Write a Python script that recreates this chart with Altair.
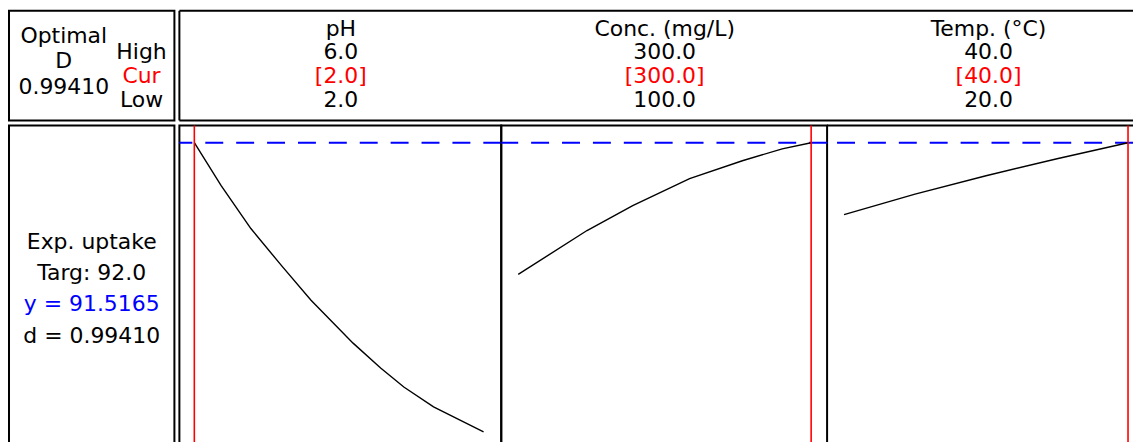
import altair as alt
import pandas as pd

FONT = "DejaVu Sans"
FS = 22

# ---- data ----
factor_names = ["pH", "Conc. (mg/L)", "Temp. (°C)"]
factor_high = ["6.0", "300.0", "40.0"]
factor_cur = ["[2.0]", "[300.0]", "[40.0]"]
factor_low = ["2.0", "100.0", "20.0"]
current = [2.0, 300.0, 40.0]
x_domains = [[1.794, 6.234], [89.15, 310.85], [18.807, 40.351]]

ph_x = [2.0, 2.37, 2.78, 3.2, 3.61, 4.19, 4.57, 4.89, 5.3, 5.99]
ph_y = [91.52, 82.9, 74.3, 66.9, 59.9, 51.3, 46.3, 42.5, 38.5, 33.5]
conc_x = [100.7, 147.5, 178.6, 217.3, 253.2, 280.3, 300.0]
conc_y = [65.1, 73.9, 78.9, 84.3, 87.9, 90.3, 91.52]
temp_x = [20.0, 25.0, 30.0, 35.0, 40.0]
temp_y = [77.1, 81.2, 84.9, 88.3, 91.52]

resp_name = "Exp. uptake"
resp_target = "Targ: 92.0"
resp_pred = 91.5165
resp_d = "0.99410"
optimal_d = "0.99410"

Y_DOMAIN = [27, 95]
PWS = [323, 327, 307]
PH = 340
LW = 166
TH = 110
SW = 2
HDR_Y = [-0.76, 3.88]

# ---- header left ----
hl = pd.DataFrame({
    "t": ["Optimal", "D", optimal_d, "High", "Cur", "Low"],
    "col": [0, 0, 0, 1, 1, 1],
    "row": [0.3, 1.38, 2.48, 1, 2, 3],
    "c": ["black", "black", "black", "black", "#ff0000", "black"],
})
header_left = alt.Chart(hl).mark_text(fontSize=FS, font=FONT, baseline="middle", align="center").encode(
    x=alt.X("col:Q", scale=alt.Scale(domain=[-0.705, 1.423], nice=False, zero=False), axis=None),
    y=alt.Y("row:Q", scale=alt.Scale(domain=HDR_Y, nice=False, zero=False, reverse=True), axis=None),
    text="t:N",
    color=alt.Color("c:N", scale=None),
).properties(width=LW, height=TH)

# ---- header right ----
rows = []
for i, n in enumerate(factor_names):
    rows.append({"i": i, "row": 0, "t": n, "c": "black"})
    rows.append({"i": i, "row": 1, "t": factor_high[i], "c": "black"})
    rows.append({"i": i, "row": 2, "t": factor_cur[i], "c": "#ff0000"})
    rows.append({"i": i, "row": 3, "t": factor_low[i], "c": "black"})
hr = pd.DataFrame(rows)
HRW = sum(PWS)
hr_text = alt.Chart(hr).mark_text(fontSize=FS, font=FONT, baseline="middle", align="center").encode(
    x=alt.X("i:Q", scale=alt.Scale(domain=[-0.4985, -0.4985 + HRW / 325], nice=False, zero=False), axis=None),
    y=alt.Y("row:Q", scale=alt.Scale(domain=HDR_Y, nice=False, zero=False, reverse=True), axis=None),
    text="t:N",
    color=alt.Color("c:N", scale=None),
)
frame = alt.Chart(pd.DataFrame({"k": [0]}))
hr_top = frame.mark_rule(color="black", strokeWidth=SW).encode(y=alt.value(0))
hr_bot = frame.mark_rule(color="black", strokeWidth=SW).encode(y=alt.value(TH))
hr_left = frame.mark_rule(color="black", strokeWidth=SW).encode(x=alt.value(0))
header_right = alt.layer(hr_top, hr_bot, hr_left, hr_text).properties(
    width=HRW, height=TH, view=alt.ViewBackground(stroke="transparent")
)

# ---- bottom left ----
bl = pd.DataFrame({
    "t": [resp_name, resp_target, f"y = {resp_pred:.4f}", f"d = {resp_d}"],
    "col": [0, 0, 0, 0],
    "row": [0, 1, 2, 3],
    "c": ["black", "black", "#0000ff", "black"],
})
bottom_left = alt.Chart(bl).mark_text(fontSize=FS, font=FONT, baseline="middle", align="center").encode(
    x=alt.X("col:Q", scale=alt.Scale(domain=[-1, 1], nice=False, zero=False), axis=None),
    y=alt.Y("row:Q", scale=alt.Scale(domain=[-3.74, 7.12], nice=False, zero=False, reverse=True), axis=None),
    text="t:N",
    color=alt.Color("c:N", scale=None),
).properties(width=LW, height=PH)


def panel(xs, ys, dom, cur, w, open_right=False):
    df = pd.DataFrame({"x": xs, "y": ys})
    xsc = alt.Scale(domain=dom, nice=False, zero=False)
    ysc = alt.Scale(domain=Y_DOMAIN, nice=False, zero=False)
    blue = alt.Chart(pd.DataFrame({"y": [resp_pred]})).mark_rule(
        color="#0000ff", strokeWidth=2, strokeDash=[18, 13]
    ).encode(y=alt.Y("y:Q", scale=ysc, axis=None))
    line = alt.Chart(df).mark_line(color="black", strokeWidth=1.4).encode(
        x=alt.X("x:Q", scale=xsc, axis=None),
        y=alt.Y("y:Q", scale=ysc, axis=None),
    )
    red = alt.Chart(pd.DataFrame({"x": [cur]})).mark_rule(color="#ff0000", strokeWidth=1.6).encode(
        x=alt.X("x:Q", scale=xsc, axis=None)
    )
    layers = [blue, line, red]
    props = dict(width=w, height=PH)
    if open_right:
        layers.insert(0, frame.mark_rule(color="black", strokeWidth=SW).encode(y=alt.value(0)))
        props["view"] = alt.ViewBackground(stroke="transparent")
    return alt.layer(*layers).properties(**props)


p1 = panel(ph_x, ph_y, x_domains[0], current[0], PWS[0])
p2 = panel(conc_x, conc_y, x_domains[1], current[1], PWS[1])
p3 = panel(temp_x, temp_y, x_domains[2], current[2], PWS[2], open_right=True)

top = alt.hconcat(header_left, header_right, spacing=5, bounds="flush")
bottom = alt.hconcat(bottom_left, alt.hconcat(p1, p2, p3, spacing=0, bounds="flush"), spacing=5, bounds="flush")

chart = alt.vconcat(top, bottom, spacing=1).properties(
    padding={"left": 0, "top": 0, "right": 0, "bottom": 0}
).configure(background="white").configure_view(stroke="black", strokeWidth=SW)

chart.save("out.html", embed_options={"renderer": "svg", "actions": False})
